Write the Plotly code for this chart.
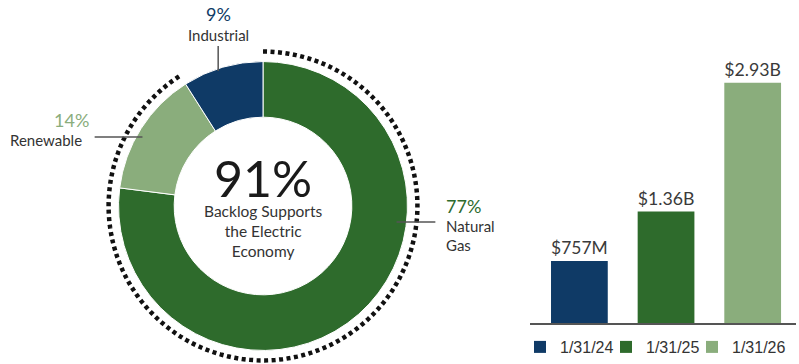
import numpy as np
import plotly.graph_objects as go

W, H = 799, 364

# ---- data ----
segments = ["Natural Gas", "Renewable", "Industrial"]
shares = [77, 14, 9]
seg_colors = ["#2E6B2C", "#8AAD7C", "#0F3A66"]
electric_segments = ["Natural Gas", "Renewable"]
center_caption = ["Backlog Supports", "the Electric", "Economy"]

dates = ["1/31/24", "1/31/25", "1/31/26"]
backlog_musd = [757, 1360, 2930]
backlog_labels = ["$757M", "$1.36B", "$2.93B"]
bar_colors = ["#0F3A66", "#2E6B2C", "#8AAD7C"]

FONT = "Lato"
DARK = "#333333"


def px_x(x):
    return x / W


def px_y(y):
    return 1 - y / H


fig = go.Figure()

# donut
cx, cy, R = 264, 206, 145
fig.add_trace(go.Pie(
    labels=segments, values=shares, sort=False, direction="clockwise", rotation=0,
    hole=0.615, marker=dict(colors=seg_colors, line=dict(color="white", width=1)),
    textinfo="none", showlegend=False, hoverinfo="label+percent",
    domain=dict(x=[px_x(cx - R), px_x(cx + R)], y=[px_y(cy + R), px_y(cy - R)]),
))

# dotted arc around the electric-economy share
elec_share = sum(s for n, s in zip(segments, shares) if n in electric_segments) / sum(shares)
theta = np.linspace(0, 360 * elec_share, 240)
PR = 158
fig.add_trace(go.Scatterpolar(
    r=[155.0] * len(theta), theta=list(theta), mode="lines",
    line=dict(color="#111111", width=4.5, dash="4px,3.5px"),
    showlegend=False, hoverinfo="skip", cliponaxis=False,
))
fig.update_layout(polar=dict(
    domain=dict(x=[px_x(cx - PR), px_x(cx + PR)], y=[max(0, px_y(cy + PR)), px_y(cy - PR)]),
    radialaxis=dict(range=[0, PR], visible=False),
    angularaxis=dict(visible=False, direction="clockwise", rotation=90),
    bgcolor="rgba(0,0,0,0)",
))

# bars
for i, (d, v, lab, c) in enumerate(zip(dates, backlog_musd, backlog_labels, bar_colors)):
    fig.add_trace(go.Bar(
        x=[d], y=[v], name=d, marker=dict(color=c, line=dict(width=0)),
        text=[lab], texttemplate="%{text}", textposition="outside", cliponaxis=False,
        textfont=dict(family=FONT, size=18, color="#3a3a3a"),
        legendwidth=(41 if i < len(dates) - 1 else 62),
        xaxis="x", yaxis="y",
    ))

fig.update_layout(
    width=W, height=H, margin=dict(l=0, r=0, t=0, b=0),
    paper_bgcolor="white", plot_bgcolor="rgba(0,0,0,0)",
    barmode="overlay", bargap=0.345,
    xaxis=dict(domain=[px_x(532), 1], range=[-0.57, 2.5], showline=True, linecolor="#555555",
               linewidth=1.5, showticklabels=False, ticks="", showgrid=False, zeroline=False,
               fixedrange=True),
    yaxis=dict(domain=[px_y(323), px_y(40)], range=[0, 3450], visible=False, fixedrange=True),
    showlegend=True,
    legend=dict(orientation="h", x=px_x(522), xanchor="left", y=0, yanchor="bottom",
                font=dict(family="Liberation Sans", size=16, color="#333333"),
                entrywidthmode="pixels", itemwidth=30,
                bgcolor="rgba(0,0,0,0)", borderwidth=0, tracegroupgap=0),
    font=dict(family=FONT, color=DARK),
)

ann = []


def text(x, y, s, size, color=DARK, xanchor="center"):
    ann.append(dict(x=px_x(x), y=px_y(y), xref="paper", yref="paper", text=s, showarrow=False,
                    xanchor=xanchor, yanchor="middle",
                    font=dict(family=FONT, size=size, color=color)))


pct = {n: s for n, s in zip(segments, shares)}
center_text = (f"<span style='font-size:50px;color:#1a1a1a'>{int(round(elec_share * 100))}%</span><br>"
               + "<br>".join(center_caption))
ann.append(dict(x=px_x(cx), y=px_y(204), xref="paper", yref="paper", text=center_text,
                showarrow=False, xanchor="center", yanchor="middle", align="center",
                font=dict(family=FONT, size=15.5, color=DARK)))

text(219, 14, f"{pct['Industrial']}%", 18, seg_colors[2])
text(219, 35, "Industrial", 15)
text(72, 120, f"{pct['Renewable']}%", 18, seg_colors[1])
text(8, 140, "Renewable", 15, xanchor="left")
text(446, 206, f"{pct['Natural Gas']}%", 18, seg_colors[0], xanchor="left")
text(446, 226, "Natural", 15, xanchor="left")
text(446, 245, "Gas", 15, xanchor="left")
fig.update_layout(annotations=ann)

lc = dict(color="#555555", width=1.5)
shapes = [
    dict(type="line", xref="paper", yref="paper", x0=px_x(219), x1=px_x(219), y0=px_y(46), y1=px_y(71), line=lc),
    dict(type="line", xref="paper", yref="paper", x0=px_x(95), x1=px_x(143), y0=px_y(137), y1=px_y(137), line=lc),
    dict(type="line", xref="paper", yref="paper", x0=px_x(398), x1=px_x(437), y0=px_y(222), y1=px_y(222), line=lc),
]
fig.update_layout(shapes=shapes)

fig.write_html("out.html")
